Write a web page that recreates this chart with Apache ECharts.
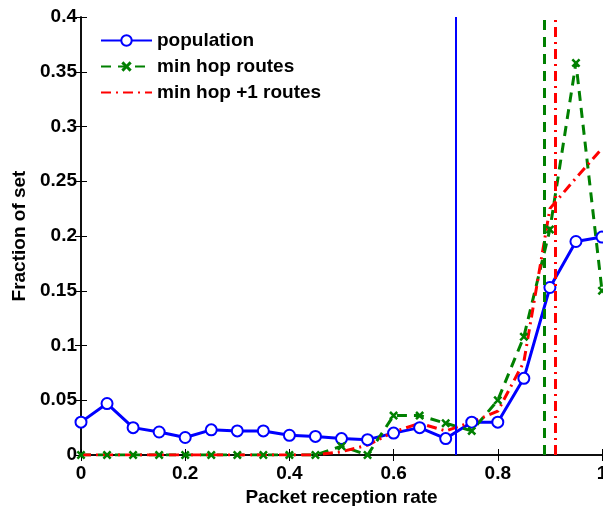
<!DOCTYPE html>
<html>
<head>
<meta charset="utf-8">
<script src="https://cdn.jsdelivr.net/npm/echarts@6/dist/echarts.min.js"></script>
<style>
  html, body { margin: 0; padding: 0; background: #fff; }
  #chart { width: 603px; height: 506px; }
</style>
</head>
<body>
<div id="chart"></div>
<script>
// Packet reception rate bins
const receptionRate = [0, 0.05, 0.1, 0.15, 0.2, 0.25, 0.3, 0.35, 0.4, 0.45, 0.5,
                       0.55, 0.6, 0.65, 0.7, 0.75, 0.8, 0.85, 0.9, 0.95, 1];

// Fraction of each set falling in each bin
const population  = [0.030, 0.047, 0.025, 0.021, 0.016, 0.023, 0.022, 0.022, 0.018, 0.017, 0.015,
                     0.014, 0.020, 0.025, 0.015, 0.030, 0.030, 0.070, 0.153, 0.195, 0.199];
const minHop      = [0, 0, 0, 0, 0, 0, 0, 0, 0, 0, 0.008,
                     0, 0.036, 0.036, 0.029, 0.022, 0.050, 0.108, 0.206, 0.358, 0.150];
const minHopPlus1 = [0, 0, 0, 0, 0, 0, 0, 0, 0, 0, 0.003,
                     0.009, 0.021, 0.029, 0.022, 0.030, 0.040, 0.085, 0.225, 0.253, 0.280];

// Mean reception rate of each set
const meanPopulation  = 0.725;
const meanMinHop      = 0.89;
const meanMinHopPlus1 = 0.905;

const xTicks = [0, 0.2, 0.4, 0.6, 0.8, 1];
const yTicks = [0, 0.05, 0.1, 0.15, 0.2, 0.25, 0.3, 0.35, 0.4];

const pairs = ys => receptionRate.map((x, i) => [x, ys[i]]);

const FONT = '"Liberation Sans", Arial, Helvetica, sans-serif';
const BLUE = '#0000ff', GREEN = '#008000', RED = '#ff0000';
const crossSymbol = 'path://M2,0L5,3L8,0L10,2L7,5L10,8L8,10L5,7L2,10L0,8L3,5L0,2Z';

const labelStyle = { color: '#000', fontFamily: FONT, fontWeight: 'bold', fontSize: 19 };
const axisLine = { show: true, lineStyle: { color: '#000', width: 1.5 } };
const tick = { show: true, inside: true, length: 6, lineStyle: { color: '#000', width: 1 } };

const chart = echarts.init(document.getElementById('chart'), null, { renderer: 'canvas' });
chart.setOption({
  animation: false,
  backgroundColor: '#fff',
  grid: { left: 81, right: 1, top: 17, bottom: 51, outerBoundsMode: 'none' },
  legend: {
    orient: 'vertical',
    left: 95,
    top: 26,
    itemWidth: 51,
    itemHeight: 13,
    itemGap: 7,
    textStyle: labelStyle,
    data: [
      { name: 'population' },
      { name: 'min hop routes' },
      { name: 'min hop +1 routes', itemStyle: { opacity: 0 } }
    ]
  },
  xAxis: [{
    type: 'value', min: 0, max: 1, interval: 0.2,
    axisLine, axisTick: tick, splitLine: { show: false },
    axisLabel: {
      ...labelStyle, margin: 9,
      formatter: v => xTicks.includes(+v.toFixed(2)) ? String(+v.toFixed(2)) : ''
    },
    name: 'Packet reception rate', nameLocation: 'middle', nameGap: 25,
    nameTextStyle: labelStyle
  }, {
    type: 'value', position: 'top', min: 0, max: 1, interval: 0.2,
    axisLine, axisTick: tick, axisLabel: { show: false }, splitLine: { show: false }
  }],
  yAxis: [{
    type: 'value', min: 0, max: 0.4, interval: 0.05,
    axisLine, axisTick: tick, splitLine: { show: false },
    axisLabel: {
      ...labelStyle, margin: 4,
      formatter: v => yTicks.includes(+v.toFixed(2)) ? String(+v.toFixed(2)) : ''
    },
    name: 'Fraction of set', nameLocation: 'middle', nameGap: 50,
    nameTextStyle: labelStyle
  }, {
    type: 'value', position: 'right', min: 0, max: 0.4, interval: 0.05,
    axisLine, axisTick: tick, axisLabel: { show: false }, splitLine: { show: false }
  }],
  series: [{
    name: 'population',
    type: 'line',
    data: pairs(population),
    symbol: 'emptyCircle',
    symbolSize: 11,
    color: BLUE,
    lineStyle: { color: BLUE, width: 3 },
    itemStyle: { color: BLUE, borderColor: BLUE, borderWidth: 3 },
    markLine: {
      silent: true, symbol: 'none', label: { show: false },
      lineStyle: { color: BLUE, width: 2, type: 'solid' },
      data: [{ xAxis: meanPopulation }]
    }
  }, {
    name: 'min hop routes',
    type: 'line',
    data: pairs(minHop),
    symbol: crossSymbol,
    symbolSize: 9,
    color: GREEN,
    lineStyle: { color: GREEN, width: 3, type: [10, 7] },
    itemStyle: { color: GREEN },
    markLine: {
      silent: true, symbol: 'none', label: { show: false },
      lineStyle: { color: GREEN, width: 3, type: [10, 7] },
      data: [{ xAxis: meanMinHop }]
    }
  }, {
    name: 'min hop +1 routes',
    type: 'line',
    data: pairs(minHopPlus1),
    symbol: 'none',
    color: RED,
    lineStyle: { color: RED, width: 3, type: [10, 5, 2, 5] },
    itemStyle: { color: RED },
    markLine: {
      silent: true, symbol: 'none', label: { show: false },
      lineStyle: { color: RED, width: 3, type: [10, 5, 2, 5] },
      data: [{ xAxis: meanMinHopPlus1 }]
    }
  }]
});
</script>
</body>
</html>
